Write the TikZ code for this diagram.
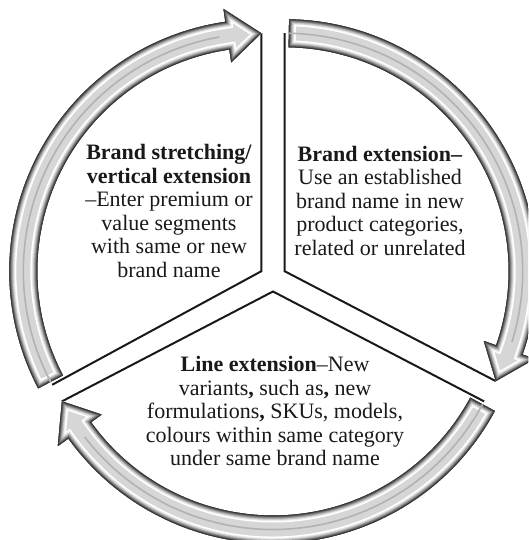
\documentclass[tikz,border=0pt]{standalone}
\usepackage{fontspec}
\setmainfont{Liberation Serif}
\begin{document}
\begin{tikzpicture}[x=1pt,y=1pt,
  secline/.style={draw=black!90, line width=2pt, line join=miter},
  txt/.style={align=center, inner sep=0pt, text=black!90, font=\fontsize{22}{23.5}\selectfont},
  arrowshape/.style 2 args={insert path={(#1:\Ro) arc[start angle=#1, end angle=#2+\Ha, radius=\Ro] -- (#2+\Ha:\Ho) -- (#2:\Rm) -- (#2+\Ha:\Hi) -- (#2+\Ha:\Ri) arc[start angle=#2+\Ha, end angle=#1, radius=\Ri] -- cycle}}]
\def\Ri{224}\def\Ro{252}\def\Rm{238}\def\Hi{211}\def\Ho{265}\def\Ha{8.2}
\newcommand\shadedarrow[3]{%
 \begin{scope}[shift={#1}]
  \begin{scope}
   \clip[arrowshape={#2}{#3}];
   \fill[black!16, arrowshape={#2}{#3}];
   \foreach \w/\c in {14/white, 11/black!8, 9/black!20, 7/black!32, 5.5/black!44, 4/black!56, 2.6/black!68, 1.3/black!80}
     \draw[line width=\w pt, color=\c, line join=miter, arrowshape={#2}{#3}];
   \draw[black!30, line width=1.6pt] (#2:\Rm) arc[start angle=#2, end angle=#3+\Ha+2, radius=\Rm];
  \end{scope}
 \end{scope}}
\useasboundingbox (0,0) rectangle (528,540);
\clip (0,0) rectangle (528,540);
\fill[white] (0,0) rectangle (528,540);

\coordinate (Lc) at (261.3,268.75);
\coordinate (Rc) at (284.7,268.75);
\coordinate (Bc) at (273,248.5);

% sector edges
\draw[secline] ([shift={(90:238)}]Lc) -- (Lc) -- ([shift={(208.5:238)}]Lc);
\draw[secline] ([shift={(90:238)}]Rc) -- (Rc) -- ([shift={(-27.5:238)}]Rc);
\draw[secline] ([shift={(207.5:238)}]Bc) -- (Bc) -- ([shift={(-27.5:238)}]Bc);

% arrows
\shadedarrow{(261.3,268.75)}{207.7}{90}
\shadedarrow{(284.7,268.75)}{89}{-27.5}
\shadedarrow{(273,248.5)}{-28.3}{-152.5}

% texts
\node[txt, anchor=north] (t1) at (169,395.5) {\textbf{Brand stretching/}\\\textbf{vertical extension}\\–Enter premium or\\value segments\\with same or new\\brand name};
\node[txt, anchor=north] (t2) at (380,394) {\textbf{Brand extension–}\\Use an established\\brand name in new\\product categories,\\related or unrelated};
\node[txt, anchor=north] (t3) at (275,183.5) {\textbf{Line extension}–New\\variants\textbf{,} such as\textbf{,} new\\formulations\textbf{,} SKUs, models,\\colours within same category\\under same brand name};
\end{tikzpicture}
\end{document}
